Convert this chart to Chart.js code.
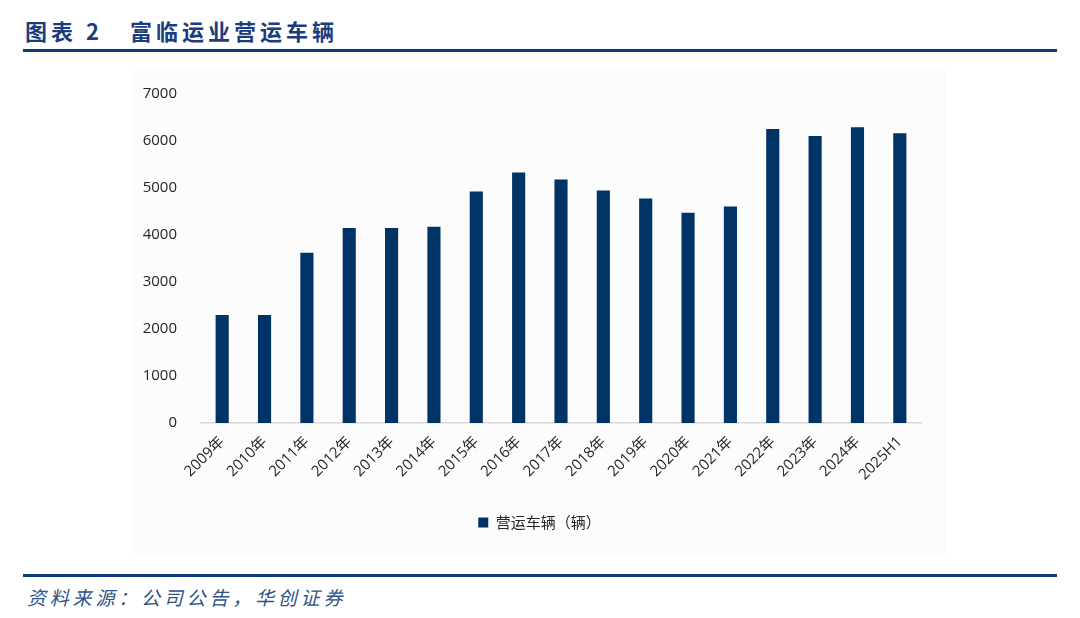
<!DOCTYPE html>
<html lang="zh">
<head>
  <meta charset="UTF-8">
  <title>富临运业营运车辆</title>
  <style>
    body {
      margin: 0;
      width: 1080px;
      height: 618px;
      background: #ffffff;
      position: relative;
      overflow: hidden;
      font-family: "Noto Sans CJK SC", sans-serif;
    }
    .title {
      position: absolute;
      left: 25px;
      top: 14px;
      font-size: 22px;
      font-weight: bold;
      letter-spacing: 4px;
      color: #1b3d7d;
      white-space: pre;
    }
    .rule {
      position: absolute;
      left: 23px;
      width: 1034px;
      height: 3px;
      background: #0d3a7e;
    }
    .panel {
      position: absolute;
      left: 133px;
      top: 68px;
      width: 813px;
      height: 488px;
      background: #fcfcfc;
    }
    .source {
      position: absolute;
      left: 27px;
      top: 583px;
      font-size: 19px;
      font-style: italic;
      letter-spacing: 3.8px;
      color: #2f5289;
    }
  </style>
</head>
<body>

  <div class="title">图表 2   富临运业营运车辆</div>
  <div class="rule" style="top:49px"></div>

  <div class="panel">
    <canvas id="fleetChart" width="813" height="488"></canvas>
  </div>

  <div class="rule" style="top:574px"></div>
  <div class="source">资料来源：公司公告，华创证券</div>

  <script src="https://cdn.jsdelivr.net/npm/chart.js"></script>
  <script>
    const years = ["2009年", "2010年", "2011年", "2012年", "2013年", "2014年", "2015年", "2016年", "2017年",
                   "2018年", "2019年", "2020年", "2021年", "2022年", "2023年", "2024年", "2025H1"];
    const vehicles = [2300, 2300, 3620, 4150, 4150, 4175, 4925, 5330, 5180,
                      4945, 4775, 4475, 4605, 6255, 6105, 6295, 6165];
    const yTicks = [0, 1000, 2000, 3000, 4000, 5000, 6000, 7000];

    const tickFont = { family: "'Open Sans', 'Noto Sans CJK SC', sans-serif", size: 15 };

    new Chart(document.getElementById("fleetChart").getContext("2d"), {
      type: "bar",
      data: {
        labels: years,
        datasets: [{
          label: "营运车辆（辆）",
          data: vehicles,
          backgroundColor: "#003366",
          barPercentage: 0.62,
          categoryPercentage: 0.5
        }]
      },
      options: {
        responsive: false,
        animation: false,
        layout: { padding: { top: 26, right: 0, bottom: 16, left: 0 } },
        scales: {
          x: {
            grid: { display: false },
            border: { display: true, color: "#d9d9d9", width: 1.5 },
            ticks: {
              color: "#262626",
              font: tickFont,
              maxRotation: 45,
              minRotation: 45,
              autoSkip: false,
              padding: 2
            },
            afterFit: scale => { scale.height = 82; }
          },
          y: {
            min: 0,
            max: 7000,
            afterBuildTicks: scale => { scale.ticks = yTicks.map(v => ({ value: v })); },
            grid: { display: false },
            border: { display: false },
            ticks: {
              color: "#262626",
              font: tickFont,
              padding: 16,
              callback: v => String(v)
            },
            afterFit: scale => { scale.width = 68; }
          },
          // empty right-hand axis, only to keep a margin right of the bars
          // while the legend stays centred on the whole panel
          spacer: {
            type: "linear",
            position: "right",
            grid: { display: false },
            border: { display: false },
            ticks: { display: false },
            afterFit: scale => { scale.width = 25; }
          }
        },
        plugins: {
          legend: {
            position: "bottom",
            labels: {
              color: "#262626",
              font: { family: "'Noto Sans CJK SC', sans-serif", size: 15 },
              boxWidth: 10,
              boxHeight: 10,
              padding: 10
            }
          },
          tooltip: { enabled: false }
        }
      }
    });
  </script>

</body>
</html>
